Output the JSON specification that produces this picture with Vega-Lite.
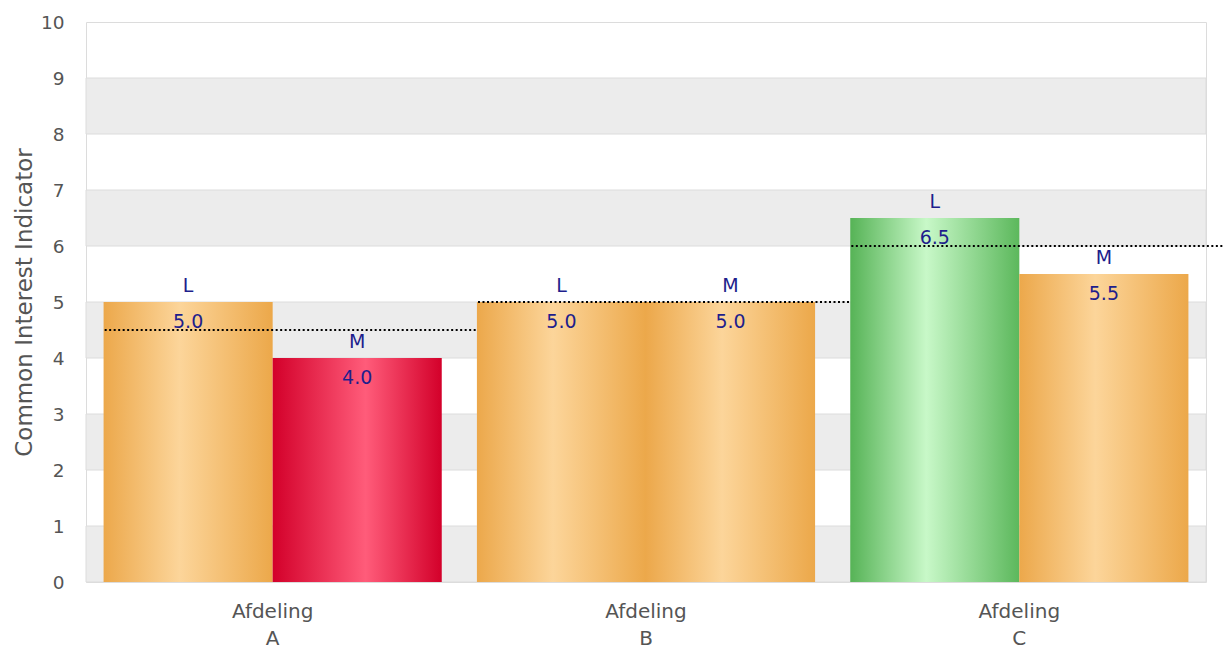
{
  "$schema": "https://vega.github.io/schema/vega-lite/v6.json",
  "width": 1120,
  "height": 560,
  "autosize": {"type": "none"},
  "padding": {"left": 86, "top": 22, "right": 20, "bottom": 66},
  "background": "white",
  "config": {
    "view": {"stroke": "#dcdcdc", "strokeWidth": 1},
    "font": "DejaVu Sans"
  },
  "datasets": {
    "scores": [
      {"group": "Afdeling A", "series": "L", "value": 5.0, "rating": "orange"},
      {"group": "Afdeling A", "series": "M", "value": 4.0, "rating": "red"},
      {"group": "Afdeling B", "series": "L", "value": 5.0, "rating": "orange"},
      {"group": "Afdeling B", "series": "M", "value": 5.0, "rating": "orange"},
      {"group": "Afdeling C", "series": "L", "value": 6.5, "rating": "green"},
      {"group": "Afdeling C", "series": "M", "value": 5.5, "rating": "orange"}
    ],
    "bands": [
      {"lo": 0, "hi": 1}, {"lo": 2, "hi": 3}, {"lo": 4, "hi": 5}, {"lo": 6, "hi": 7}, {"lo": 8, "hi": 9}
    ],
    "averages": [
      {"group": "Afdeling A", "avg": 4.5},
      {"group": "Afdeling B", "avg": 5.0},
      {"group": "Afdeling C", "avg": 6.0}
    ]
  },
  "layer": [
    {
      "data": {"name": "bands"},
      "mark": {"type": "rect", "fill": "#ececec", "stroke": "#dcdcdc", "strokeWidth": 1},
      "encoding": {
        "y": {"field": "lo", "type": "quantitative", "scale": {"domain": [0, 10], "nice": false},
          "axis": {"title": "Common Interest Indicator", "values": [0,1,2,3,4,5,6,7,8,9,10], "grid": false, "domain": false, "ticks": false,
            "labelFontSize": 18.5, "labelColor": "#555555", "labelPadding": 22, "labelFont": "DejaVu Sans",
            "titleFontSize": 23, "titleFontWeight": "normal", "titleColor": "#555555", "titlePadding": 4, "titleFont": "DejaVu Sans"}},
        "y2": {"field": "hi"}
      }
    },
    {
      "data": {"name": "scores"},
      "mark": {"type": "bar"},
      "encoding": {
        "x": {"field": "group", "type": "nominal", "scale": {"paddingInner": 0, "paddingOuter": 0},
          "axis": {"title": null, "labelAngle": 0, "domain": false, "ticks": false, "grid": false,
            "labelExpr": "split(datum.label, ' ')", "labelLineHeight": 27, "labelFontSize": 20,
            "labelColor": "#555555", "labelPadding": 19, "labelFont": "DejaVu Sans"}},
        "xOffset": {"field": "series", "type": "nominal", "scale": {"paddingOuter": 0.104, "paddingInner": 0}},
        "y": {"field": "value", "type": "quantitative"},
        "fill": {
          "condition": [
            {"test": "datum.rating === 'red'", "value": {"gradient": "linear", "x1": 0, "x2": 1, "y1": 0, "y2": 0,
              "stops": [{"offset": 0, "color": "#d3002a"}, {"offset": 0.55, "color": "#ff5c7a"}, {"offset": 1, "color": "#d3002a"}]}},
            {"test": "datum.rating === 'green'", "value": {"gradient": "linear", "x1": 0, "x2": 1, "y1": 0, "y2": 0,
              "stops": [{"offset": 0, "color": "#56b356"}, {"offset": 0.45, "color": "#c8f8c8"}, {"offset": 1, "color": "#5cb85c"}]}}
          ],
          "value": {"gradient": "linear", "x1": 0, "x2": 1, "y1": 0, "y2": 0,
            "stops": [{"offset": 0, "color": "#eca84b"}, {"offset": 0.45, "color": "#fcd59a"}, {"offset": 1, "color": "#eca84a"}]}
        }
      }
    },
    {
      "data": {"name": "scores"},
      "mark": {"type": "text", "dy": -10, "baseline": "alphabetic", "fontSize": 19, "color": "#1e1e8c", "font": "DejaVu Sans"},
      "encoding": {
        "x": {"field": "group", "type": "nominal"},
        "xOffset": {"field": "series", "type": "nominal"},
        "y": {"field": "value", "type": "quantitative"},
        "text": {"field": "series"}
      }
    },
    {
      "data": {"name": "scores"},
      "mark": {"type": "text", "dy": 26, "baseline": "alphabetic", "fontSize": 19, "color": "#1e1e8c", "font": "DejaVu Sans"},
      "encoding": {
        "x": {"field": "group", "type": "nominal"},
        "xOffset": {"field": "series", "type": "nominal"},
        "y": {"field": "value", "type": "quantitative"},
        "text": {"field": "value", "format": ".1f"}
      }
    },
    {
      "data": {"name": "averages"},
      "mark": {"type": "rule", "color": "#000000", "strokeWidth": 2, "strokeDash": [2, 2.5], "xOffset": -168, "x2Offset": 205},
      "encoding": {
        "x": {"field": "group", "type": "nominal"},
        "x2": {"field": "group"},
        "y": {"field": "avg", "type": "quantitative"}
      }
    }
  ]
}
